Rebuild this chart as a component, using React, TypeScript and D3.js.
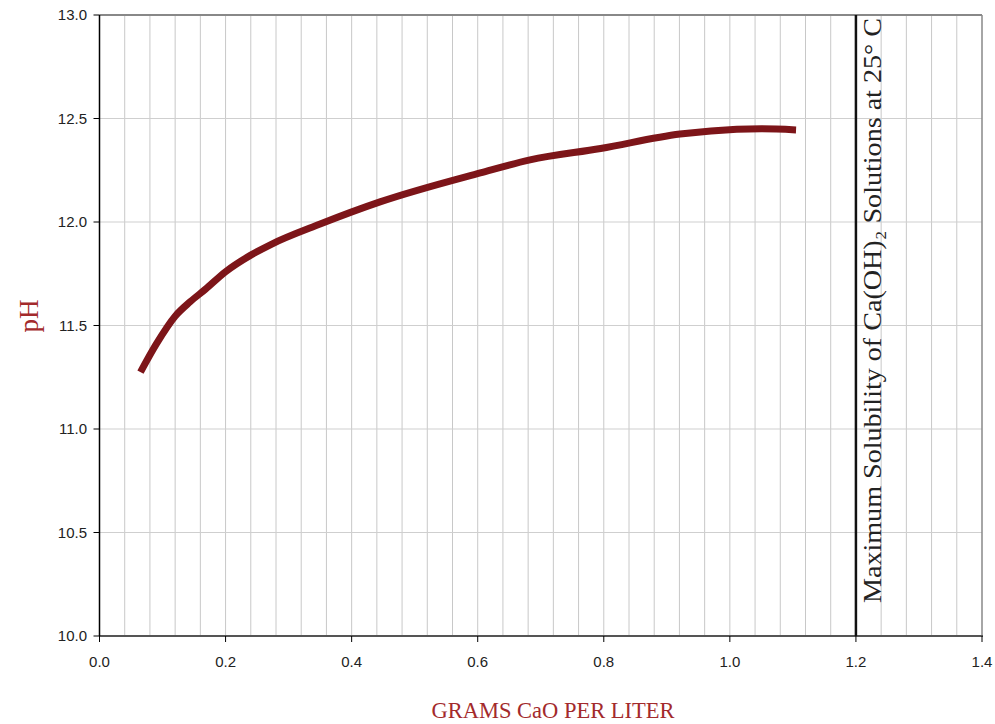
import React from "react";
import * as d3 from "d3";

const gramsCaO = [0.065, 0.09, 0.12, 0.144, 0.168, 0.2, 0.24, 0.271, 0.35, 0.445, 0.604, 0.683, 0.795, 0.921, 0.97, 1.05, 1.105];
const pH = [11.275, 11.41, 11.545, 11.615, 11.675, 11.76, 11.84, 11.89, 11.99, 12.097, 12.237, 12.3, 12.355, 12.425, 12.44, 12.45, 12.445];
const xTicks = [0, 0.2, 0.4, 0.6, 0.8, 1.0, 1.2, 1.4];
const yTicks = [10.0, 10.5, 11.0, 11.5, 12.0, 12.5, 13.0];
const maxSolubility = 1.2;
const maxLabel = "Maximum Solubility of Ca(OH)₂ Solutions at 25° C";

export default function App() {
  const W = 995, H = 724;
  const left = 99.5, right = 982, top = 15, bottom = 636;
  const x = d3.scaleLinear().domain([0, 1.4]).range([left, right]);
  const y = d3.scaleLinear().domain([10, 13]).range([bottom, top]);
  const minor = d3.range(0, 36).map((i) => i * 0.04).filter((v) => v > 0 && v < 1.4);
  const line = d3.line<number>().x((_, i) => x(gramsCaO[i])).y((d) => y(d)).curve(d3.curveMonotoneX);
  const sans = "'Liberation Sans', Arial, sans-serif";
  const serif = "'Liberation Serif', 'DejaVu Serif', serif";
  return (
    <svg width={W} height={H} style={{ position: "absolute", left: 0, top: 0, background: "#fff" }}>
      {minor.map((v) => (
        <line key={"v" + v} x1={x(v)} x2={x(v)} y1={top} y2={bottom} stroke="#c8c8c8" strokeWidth={1} />
      ))}
      {yTicks.slice(1, -1).map((v) => (
        <line key={"h" + v} x1={left} x2={right} y1={y(v)} y2={y(v)} stroke="#cfcfcf" strokeWidth={1} />
      ))}
      <line x1={right} x2={right} y1={top} y2={bottom} stroke="#888" strokeWidth={1.5} />
      <line x1={left} x2={right} y1={top} y2={top} stroke="#888" strokeWidth={2} />
      <line x1={left} x2={right + 1} y1={bottom} y2={bottom} stroke="#555" strokeWidth={2} />
      <line x1={left} x2={left} y1={top} y2={bottom} stroke="#000" strokeWidth={1.5} />
      {yTicks.map((v) => (
        <g key={"yt" + v}>
          <line x1={left - 6} x2={left} y1={y(v)} y2={y(v)} stroke="#000" strokeWidth={1} />
          <text x={87} y={y(v)} dy="0.35em" textAnchor="end" fontFamily={sans} fontSize={15} fill="#222">
            {v.toFixed(1)}
          </text>
        </g>
      ))}
      {xTicks.map((v) => (
        <g key={"xt" + v}>
          <line x1={x(v)} x2={x(v)} y1={bottom} y2={bottom + 6} stroke="#000" strokeWidth={1} />
          <text x={x(v)} y={667} textAnchor="middle" fontFamily={sans} fontSize={15} fill="#222">
            {v.toFixed(1)}
          </text>
        </g>
      ))}
      <line x1={x(maxSolubility)} x2={x(maxSolubility)} y1={top} y2={bottom} stroke="#111" strokeWidth={2.5} />
      <text
        transform={`translate(${x(maxSolubility) + 25},603) rotate(-90)`}
        fontFamily={serif}
        fontSize={25}
        textLength={585}
        lengthAdjust="spacingAndGlyphs"
        fill="#222"
      >
        {maxLabel}
      </text>
      <path d={line(pH) || ""} fill="none" stroke="#7d1519" strokeWidth={7} strokeLinecap="butt" strokeLinejoin="round" />
      <text transform="translate(38,316) rotate(-90)" textAnchor="middle" fontFamily={serif} fontSize={27} fill="#a32a2c">
        pH
      </text>
      <text x={553} y={718} textAnchor="middle" fontFamily={serif} fontSize={22.5} fill="#a32a2c">
        GRAMS CaO PER LITER
      </text>
    </svg>
  );
}
